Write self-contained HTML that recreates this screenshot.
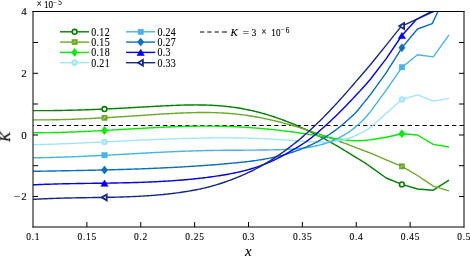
<!DOCTYPE html>
<html><head><meta charset="utf-8"><style>
html,body{margin:0;padding:0;background:#fff;}
svg{display:block;-webkit-font-smoothing:antialiased;}
text{will-change:transform;stroke:#000;stroke-width:0.12px;}
</style></head><body>
<svg width="470" height="256" viewBox="0 0 470 256">
<rect width="470" height="256" fill="#fff"/>
<defs><clipPath id="cp"><rect x="33" y="11.5" width="431" height="215.5"/></clipPath></defs>
<line x1="33" y1="125.5" x2="464" y2="125.5" stroke="#000" stroke-width="1.0" stroke-dasharray="4.3 3.11" stroke-dashoffset="3.31"/>
<g clip-path="url(#cp)"><path d="M33.10,110.65 L34.60,110.66 L36.10,110.67 L37.60,110.67 L39.10,110.67 L40.60,110.67 L42.10,110.67 L43.60,110.67 L45.10,110.66 L46.60,110.65 L48.10,110.64 L49.60,110.63 L51.10,110.61 L52.60,110.59 L54.10,110.57 L55.60,110.55 L57.10,110.53 L58.60,110.51 L60.10,110.48 L61.60,110.45 L63.10,110.42 L64.60,110.39 L66.10,110.36 L67.60,110.32 L69.10,110.29 L70.60,110.25 L72.10,110.21 L73.60,110.17 L75.10,110.13 L76.60,110.08 L78.10,110.04 L79.60,109.99 L81.10,109.94 L82.60,109.89 L84.10,109.84 L85.60,109.79 L87.10,109.74 L88.60,109.68 L90.10,109.62 L91.60,109.57 L93.10,109.51 L94.60,109.45 L96.10,109.39 L97.60,109.33 L99.10,109.26 L100.60,109.20 L102.10,109.13 L103.60,109.07 L105.10,109.00 L106.60,108.93 L108.10,108.86 L109.60,108.79 L111.10,108.72 L112.60,108.65 L114.10,108.58 L115.60,108.50 L117.10,108.43 L118.60,108.35 L120.10,108.28 L121.60,108.20 L123.10,108.12 L124.60,108.05 L126.10,107.97 L127.60,107.89 L129.10,107.81 L130.60,107.73 L132.10,107.65 L133.60,107.57 L135.10,107.49 L136.60,107.40 L138.10,107.32 L139.60,107.24 L141.10,107.16 L142.60,107.07 L144.10,106.99 L145.60,106.91 L147.10,106.82 L148.60,106.74 L150.10,106.65 L151.60,106.57 L153.10,106.48 L154.60,106.40 L156.10,106.32 L157.60,106.23 L159.10,106.15 L160.60,106.07 L162.10,105.99 L163.60,105.91 L165.10,105.83 L166.60,105.76 L168.10,105.68 L169.60,105.61 L171.10,105.54 L172.60,105.48 L174.10,105.41 L175.60,105.35 L177.10,105.30 L178.60,105.24 L180.10,105.19 L181.60,105.15 L183.10,105.10 L184.60,105.06 L186.10,105.03 L187.60,105.00 L189.10,104.97 L190.60,104.95 L192.10,104.94 L193.60,104.93 L195.10,104.92 L196.60,104.92 L198.10,104.93 L199.60,104.94 L201.10,104.96 L202.60,104.99 L204.10,105.02 L205.60,105.06 L207.10,105.11 L208.60,105.16 L210.10,105.22 L211.60,105.29 L213.10,105.36 L214.60,105.45 L216.10,105.54 L217.60,105.64 L219.10,105.75 L220.60,105.87 L222.10,105.99 L223.60,106.13 L225.10,106.27 L226.60,106.43 L228.10,106.59 L229.60,106.77 L231.10,106.95 L232.60,107.14 L234.10,107.35 L235.60,107.56 L237.10,107.79 L238.60,108.03 L240.10,108.28 L241.60,108.54 L243.10,108.81 L244.60,109.09 L246.10,109.39 L247.60,109.69 L249.10,110.01 L250.60,110.33 L252.10,110.67 L253.60,111.02 L255.10,111.38 L256.60,111.75 L258.10,112.13 L259.60,112.53 L261.10,112.93 L262.60,113.34 L264.10,113.77 L265.60,114.20 L267.10,114.65 L268.60,115.10 L270.10,115.57 L271.60,116.05 L273.10,116.53 L274.60,117.03 L276.10,117.54 L277.60,118.05 L279.10,118.58 L280.60,119.11 L282.10,119.66 L283.60,120.22 L285.10,120.78 L286.60,121.36 L288.10,121.94 L289.60,122.54 L291.10,123.14 L292.60,123.75 L294.10,124.38 L295.60,125.01 L297.10,125.65 L298.60,126.30 L300.10,126.96 L301.60,127.63 L303.10,128.30 L304.60,128.99 L306.10,129.69 L307.60,130.39 L309.10,131.10 L310.60,131.82 L312.10,132.55 L313.60,133.29 L315.10,134.04 L316.60,134.80 L318.10,135.56 L319.60,136.33 L321.10,137.11 L322.60,137.90 L324.10,138.70 L325.60,139.50 L327.10,140.32 L328.60,141.14 L330.10,141.97 L331.60,142.80 L333.10,143.65 L334.60,144.50 L336.10,145.36 L337.60,146.23 L339.10,147.11 L340.60,147.99 L342.10,148.90 L343.60,149.81 L345.10,150.73 L346.60,151.65 L348.10,152.58 L349.60,153.51 L351.10,154.44 L352.60,155.37 L354.10,156.29 L355.60,157.20 L357.10,158.10 L358.60,159.00 L360.10,159.91 L361.60,160.81 L363.10,161.74 L364.60,162.68 L366.10,163.67 L367.60,164.71 L369.10,165.80 L370.60,166.93 L386.25,178.00 L401.90,184.40 L417.50,189.00 L433.30,190.20 L449.00,180.10" fill="none" stroke="#008000" stroke-width="1.4" stroke-linejoin="round"/><path d="M33.10,119.88 L34.60,119.89 L36.10,119.90 L37.60,119.90 L39.10,119.90 L40.60,119.90 L42.10,119.90 L43.60,119.89 L45.10,119.88 L46.60,119.87 L48.10,119.86 L49.60,119.84 L51.10,119.82 L52.60,119.80 L54.10,119.77 L55.60,119.74 L57.10,119.71 L58.60,119.68 L60.10,119.65 L61.60,119.61 L63.10,119.57 L64.60,119.53 L66.10,119.48 L67.60,119.44 L69.10,119.39 L70.60,119.34 L72.10,119.29 L73.60,119.23 L75.10,119.18 L76.60,119.12 L78.10,119.06 L79.60,119.00 L81.10,118.94 L82.60,118.87 L84.10,118.81 L85.60,118.74 L87.10,118.67 L88.60,118.60 L90.10,118.52 L91.60,118.45 L93.10,118.37 L94.60,118.30 L96.10,118.22 L97.60,118.14 L99.10,118.06 L100.60,117.97 L102.10,117.89 L103.60,117.81 L105.10,117.72 L106.60,117.63 L108.10,117.55 L109.60,117.46 L111.10,117.37 L112.60,117.28 L114.10,117.18 L115.60,117.09 L117.10,117.00 L118.60,116.90 L120.10,116.81 L121.60,116.71 L123.10,116.62 L124.60,116.52 L126.10,116.43 L127.60,116.33 L129.10,116.23 L130.60,116.13 L132.10,116.03 L133.60,115.93 L135.10,115.83 L136.60,115.74 L138.10,115.64 L139.60,115.54 L141.10,115.44 L142.60,115.34 L144.10,115.24 L145.60,115.14 L147.10,115.04 L148.60,114.94 L150.10,114.84 L151.60,114.74 L153.10,114.64 L154.60,114.54 L156.10,114.44 L157.60,114.34 L159.10,114.25 L160.60,114.15 L162.10,114.06 L163.60,113.96 L165.10,113.87 L166.60,113.78 L168.10,113.69 L169.60,113.61 L171.10,113.52 L172.60,113.44 L174.10,113.36 L175.60,113.29 L177.10,113.21 L178.60,113.14 L180.10,113.07 L181.60,113.01 L183.10,112.95 L184.60,112.89 L186.10,112.83 L187.60,112.78 L189.10,112.73 L190.60,112.69 L192.10,112.65 L193.60,112.62 L195.10,112.59 L196.60,112.56 L198.10,112.54 L199.60,112.53 L201.10,112.52 L202.60,112.51 L204.10,112.51 L205.60,112.52 L207.10,112.53 L208.60,112.54 L210.10,112.57 L211.60,112.60 L213.10,112.63 L214.60,112.67 L216.10,112.72 L217.60,112.78 L219.10,112.84 L220.60,112.91 L222.10,112.98 L223.60,113.07 L225.10,113.16 L226.60,113.25 L228.10,113.36 L229.60,113.47 L231.10,113.60 L232.60,113.73 L234.10,113.86 L235.60,114.01 L237.10,114.17 L238.60,114.33 L240.10,114.50 L241.60,114.69 L243.10,114.88 L244.60,115.08 L246.10,115.29 L247.60,115.50 L249.10,115.73 L250.60,115.96 L252.10,116.21 L253.60,116.46 L255.10,116.72 L256.60,116.98 L258.10,117.26 L259.60,117.54 L261.10,117.83 L262.60,118.13 L264.10,118.44 L265.60,118.75 L267.10,119.07 L268.60,119.40 L270.10,119.74 L271.60,120.08 L273.10,120.43 L274.60,120.78 L276.10,121.15 L277.60,121.52 L279.10,121.89 L280.60,122.28 L282.10,122.66 L283.60,123.06 L285.10,123.46 L286.60,123.87 L288.10,124.28 L289.60,124.70 L291.10,125.13 L292.60,125.56 L294.10,125.99 L295.60,126.44 L297.10,126.88 L298.60,127.34 L300.10,127.79 L301.60,128.26 L303.10,128.72 L304.60,129.20 L306.10,129.67 L307.60,130.16 L309.10,130.64 L310.60,131.13 L312.10,131.63 L313.60,132.13 L315.10,132.63 L316.60,133.14 L318.10,133.65 L319.60,134.17 L321.10,134.69 L322.60,135.21 L324.10,135.74 L325.60,136.27 L327.10,136.80 L328.60,137.34 L330.10,137.88 L331.60,138.42 L333.10,138.97 L334.60,139.51 L336.10,140.07 L337.60,140.62 L339.10,141.18 L340.60,141.73 L342.10,142.27 L343.60,142.81 L345.10,143.36 L346.60,143.93 L348.10,144.51 L349.60,145.10 L351.10,145.69 L352.60,146.28 L354.10,146.87 L355.60,147.45 L357.10,148.03 L358.60,148.61 L360.10,149.18 L361.60,149.75 L363.10,150.32 L364.60,150.88 L366.10,151.44 L367.60,152.00 L369.10,152.57 L370.60,153.14 L386.25,159.96 L401.90,166.40 L417.50,175.50 L433.30,186.10 L449.00,190.80" fill="none" stroke="#6aaa28" stroke-width="1.4" stroke-linejoin="round"/><path d="M33.10,132.66 L34.60,132.67 L36.10,132.68 L37.60,132.68 L39.10,132.68 L40.60,132.68 L42.10,132.68 L43.60,132.67 L45.10,132.66 L46.60,132.64 L48.10,132.63 L49.60,132.61 L51.10,132.59 L52.60,132.56 L54.10,132.53 L55.60,132.50 L57.10,132.47 L58.60,132.44 L60.10,132.40 L61.60,132.36 L63.10,132.32 L64.60,132.27 L66.10,132.23 L67.60,132.18 L69.10,132.13 L70.60,132.07 L72.10,132.02 L73.60,131.96 L75.10,131.90 L76.60,131.84 L78.10,131.78 L79.60,131.72 L81.10,131.65 L82.60,131.58 L84.10,131.52 L85.60,131.45 L87.10,131.38 L88.60,131.30 L90.10,131.23 L91.60,131.15 L93.10,131.08 L94.60,131.00 L96.10,130.92 L97.60,130.84 L99.10,130.76 L100.60,130.68 L102.10,130.60 L103.60,130.51 L105.10,130.43 L106.60,130.35 L108.10,130.26 L109.60,130.17 L111.10,130.09 L112.60,130.00 L114.10,129.92 L115.60,129.83 L117.10,129.74 L118.60,129.65 L120.10,129.56 L121.60,129.48 L123.10,129.39 L124.60,129.30 L126.10,129.21 L127.60,129.12 L129.10,129.04 L130.60,128.95 L132.10,128.86 L133.60,128.77 L135.10,128.69 L136.60,128.60 L138.10,128.52 L139.60,128.43 L141.10,128.35 L142.60,128.26 L144.10,128.18 L145.60,128.10 L147.10,128.02 L148.60,127.94 L150.10,127.86 L151.60,127.78 L153.10,127.70 L154.60,127.62 L156.10,127.55 L157.60,127.48 L159.10,127.40 L160.60,127.33 L162.10,127.26 L163.60,127.19 L165.10,127.13 L166.60,127.06 L168.10,127.00 L169.60,126.94 L171.10,126.88 L172.60,126.82 L174.10,126.76 L175.60,126.71 L177.10,126.66 L178.60,126.61 L180.10,126.56 L181.60,126.51 L183.10,126.47 L184.60,126.42 L186.10,126.39 L187.60,126.35 L189.10,126.31 L190.60,126.28 L192.10,126.25 L193.60,126.22 L195.10,126.20 L196.60,126.18 L198.10,126.16 L199.60,126.14 L201.10,126.13 L202.60,126.12 L204.10,126.11 L205.60,126.11 L207.10,126.11 L208.60,126.11 L210.10,126.12 L211.60,126.12 L213.10,126.14 L214.60,126.15 L216.10,126.17 L217.60,126.19 L219.10,126.22 L220.60,126.25 L222.10,126.28 L223.60,126.32 L225.10,126.36 L226.60,126.40 L228.10,126.45 L229.60,126.50 L231.10,126.56 L232.60,126.62 L234.10,126.68 L235.60,126.75 L237.10,126.82 L238.60,126.90 L240.10,126.98 L241.60,127.06 L243.10,127.15 L244.60,127.24 L246.10,127.34 L247.60,127.43 L249.10,127.54 L250.60,127.64 L252.10,127.75 L253.60,127.86 L255.10,127.98 L256.60,128.10 L258.10,128.23 L259.60,128.35 L261.10,128.48 L262.60,128.62 L264.10,128.76 L265.60,128.90 L267.10,129.04 L268.60,129.19 L270.10,129.34 L271.60,129.49 L273.10,129.65 L274.60,129.81 L276.10,129.98 L277.60,130.14 L279.10,130.31 L280.60,130.49 L282.10,130.66 L283.60,130.84 L285.10,131.03 L286.60,131.21 L288.10,131.40 L289.60,131.59 L291.10,131.79 L292.60,131.98 L294.10,132.18 L295.60,132.39 L297.10,132.59 L298.60,132.80 L300.10,133.01 L301.60,133.23 L303.10,133.44 L304.60,133.66 L306.10,133.88 L307.60,134.11 L309.10,134.33 L310.60,134.56 L312.10,134.80 L313.60,135.03 L315.10,135.27 L316.60,135.51 L318.10,135.75 L319.60,135.99 L321.10,136.24 L322.60,136.49 L324.10,136.74 L325.60,136.99 L327.10,137.23 L328.60,137.48 L330.10,137.72 L331.60,137.96 L333.10,138.20 L334.60,138.43 L336.10,138.66 L337.60,138.88 L339.10,139.09 L340.60,139.30 L342.10,139.52 L343.60,139.73 L345.10,139.92 L346.60,140.09 L348.10,140.26 L349.60,140.41 L351.10,140.54 L352.60,140.65 L354.10,140.73 L355.60,140.78 L357.10,140.80 L358.60,140.78 L360.10,140.73 L361.60,140.65 L363.10,140.54 L364.60,140.41 L366.10,140.25 L367.60,140.08 L369.10,139.91 L370.60,139.74 L386.25,137.20 L401.90,133.70 L417.50,135.00 L433.30,144.40 L449.00,147.00" fill="none" stroke="#00ee00" stroke-width="1.4" stroke-linejoin="round"/><path d="M33.10,144.70 L34.60,144.67 L36.10,144.63 L37.60,144.60 L39.10,144.56 L40.60,144.52 L42.10,144.47 L43.60,144.43 L45.10,144.39 L46.60,144.34 L48.10,144.29 L49.60,144.24 L51.10,144.19 L52.60,144.14 L54.10,144.09 L55.60,144.04 L57.10,143.99 L58.60,143.93 L60.10,143.88 L61.60,143.82 L63.10,143.76 L64.60,143.70 L66.10,143.64 L67.60,143.58 L69.10,143.52 L70.60,143.46 L72.10,143.40 L73.60,143.33 L75.10,143.27 L76.60,143.20 L78.10,143.14 L79.60,143.07 L81.10,143.00 L82.60,142.94 L84.10,142.87 L85.60,142.80 L87.10,142.73 L88.60,142.66 L90.10,142.59 L91.60,142.52 L93.10,142.45 L94.60,142.38 L96.10,142.31 L97.60,142.24 L99.10,142.16 L100.60,142.09 L102.10,142.02 L103.60,141.95 L105.10,141.87 L106.60,141.80 L108.10,141.73 L109.60,141.65 L111.10,141.58 L112.60,141.51 L114.10,141.43 L115.60,141.36 L117.10,141.28 L118.60,141.21 L120.10,141.14 L121.60,141.06 L123.10,140.99 L124.60,140.92 L126.10,140.85 L127.60,140.77 L129.10,140.70 L130.60,140.63 L132.10,140.56 L133.60,140.49 L135.10,140.42 L136.60,140.35 L138.10,140.28 L139.60,140.21 L141.10,140.14 L142.60,140.07 L144.10,140.00 L145.60,139.93 L147.10,139.87 L148.60,139.80 L150.10,139.73 L151.60,139.67 L153.10,139.61 L154.60,139.54 L156.10,139.48 L157.60,139.42 L159.10,139.36 L160.60,139.30 L162.10,139.24 L163.60,139.18 L165.10,139.12 L166.60,139.06 L168.10,139.01 L169.60,138.95 L171.10,138.90 L172.60,138.85 L174.10,138.79 L175.60,138.74 L177.10,138.69 L178.60,138.65 L180.10,138.60 L181.60,138.55 L183.10,138.51 L184.60,138.47 L186.10,138.42 L187.60,138.38 L189.10,138.34 L190.60,138.31 L192.10,138.27 L193.60,138.23 L195.10,138.20 L196.60,138.17 L198.10,138.14 L199.60,138.11 L201.10,138.08 L202.60,138.06 L204.10,138.03 L205.60,138.01 L207.10,137.99 L208.60,137.97 L210.10,137.95 L211.60,137.94 L213.10,137.92 L214.60,137.91 L216.10,137.90 L217.60,137.89 L219.10,137.89 L220.60,137.88 L222.10,137.88 L223.60,137.88 L225.10,137.88 L226.60,137.88 L228.10,137.89 L229.60,137.90 L231.10,137.91 L232.60,137.92 L234.10,137.93 L235.60,137.95 L237.10,137.97 L238.60,137.99 L240.10,138.01 L241.60,138.04 L243.10,138.07 L244.60,138.10 L246.10,138.13 L247.60,138.16 L249.10,138.20 L250.60,138.24 L252.10,138.28 L253.60,138.33 L255.10,138.38 L256.60,138.43 L258.10,138.48 L259.60,138.54 L261.10,138.59 L262.60,138.65 L264.10,138.72 L265.60,138.78 L267.10,138.85 L268.60,138.92 L270.10,139.00 L271.60,139.08 L273.10,139.16 L274.60,139.24 L276.10,139.33 L277.60,139.42 L279.10,139.51 L280.60,139.60 L282.10,139.70 L283.60,139.80 L285.10,139.91 L286.60,140.02 L288.10,140.13 L289.60,140.24 L291.10,140.36 L292.60,140.48 L294.10,140.60 L295.60,140.72 L297.10,140.84 L298.60,140.97 L300.10,141.08 L301.60,141.20 L303.10,141.31 L304.60,141.42 L306.10,141.52 L307.60,141.62 L309.10,141.71 L310.60,141.79 L312.10,141.86 L313.60,141.92 L315.10,141.97 L316.60,142.00 L318.10,142.03 L319.60,142.04 L321.10,142.03 L322.60,142.01 L324.10,141.98 L325.60,141.93 L327.10,141.85 L328.60,141.76 L330.10,141.65 L331.60,141.52 L333.10,141.37 L334.60,141.19 L336.10,140.99 L337.60,140.76 L339.10,140.51 L340.60,140.24 L342.10,139.95 L343.60,139.63 L345.10,139.27 L346.60,138.88 L348.10,138.46 L349.60,137.98 L351.10,137.47 L352.60,136.91 L354.10,136.32 L355.60,135.68 L357.10,135.01 L358.60,134.30 L360.10,133.57 L361.60,132.81 L363.10,132.01 L364.60,131.17 L366.10,130.29 L367.60,129.38 L369.10,128.41 L370.60,127.40 L386.25,113.25 L401.90,99.50 L417.50,94.80 L433.30,101.10 L449.00,98.40" fill="none" stroke="#a0e6fa" stroke-width="1.4" stroke-linejoin="round"/><path d="M33.10,157.78 L34.60,157.77 L36.10,157.75 L37.60,157.73 L39.10,157.71 L40.60,157.69 L42.10,157.66 L43.60,157.64 L45.10,157.61 L46.60,157.58 L48.10,157.55 L49.60,157.51 L51.10,157.48 L52.60,157.44 L54.10,157.40 L55.60,157.36 L57.10,157.31 L58.60,157.27 L60.10,157.22 L61.60,157.17 L63.10,157.12 L64.60,157.07 L66.10,157.02 L67.60,156.97 L69.10,156.91 L70.60,156.85 L72.10,156.80 L73.60,156.74 L75.10,156.67 L76.60,156.61 L78.10,156.55 L79.60,156.48 L81.10,156.42 L82.60,156.35 L84.10,156.28 L85.60,156.22 L87.10,156.15 L88.60,156.07 L90.10,156.00 L91.60,155.93 L93.10,155.86 L94.60,155.78 L96.10,155.71 L97.60,155.63 L99.10,155.55 L100.60,155.48 L102.10,155.40 L103.60,155.32 L105.10,155.24 L106.60,155.16 L108.10,155.08 L109.60,155.00 L111.10,154.92 L112.60,154.84 L114.10,154.76 L115.60,154.68 L117.10,154.59 L118.60,154.51 L120.10,154.43 L121.60,154.35 L123.10,154.26 L124.60,154.18 L126.10,154.10 L127.60,154.02 L129.10,153.93 L130.60,153.85 L132.10,153.77 L133.60,153.68 L135.10,153.60 L136.60,153.52 L138.10,153.44 L139.60,153.35 L141.10,153.27 L142.60,153.19 L144.10,153.11 L145.60,153.03 L147.10,152.95 L148.60,152.87 L150.10,152.79 L151.60,152.71 L153.10,152.64 L154.60,152.56 L156.10,152.48 L157.60,152.41 L159.10,152.33 L160.60,152.26 L162.10,152.18 L163.60,152.11 L165.10,152.04 L166.60,151.97 L168.10,151.90 L169.60,151.83 L171.10,151.76 L172.60,151.70 L174.10,151.63 L175.60,151.56 L177.10,151.50 L178.60,151.44 L180.10,151.38 L181.60,151.32 L183.10,151.26 L184.60,151.20 L186.10,151.15 L187.60,151.09 L189.10,151.04 L190.60,150.99 L192.10,150.94 L193.60,150.89 L195.10,150.85 L196.60,150.80 L198.10,150.76 L199.60,150.72 L201.10,150.68 L202.60,150.64 L204.10,150.60 L205.60,150.57 L207.10,150.54 L208.60,150.51 L210.10,150.48 L211.60,150.45 L213.10,150.43 L214.60,150.40 L216.10,150.38 L217.60,150.36 L219.10,150.34 L220.60,150.33 L222.10,150.31 L223.60,150.30 L225.10,150.29 L226.60,150.27 L228.10,150.26 L229.60,150.25 L231.10,150.24 L232.60,150.23 L234.10,150.22 L235.60,150.22 L237.10,150.21 L238.60,150.20 L240.10,150.19 L241.60,150.18 L243.10,150.18 L244.60,150.17 L246.10,150.16 L247.60,150.15 L249.10,150.14 L250.60,150.13 L252.10,150.12 L253.60,150.11 L255.10,150.09 L256.60,150.08 L258.10,150.07 L259.60,150.05 L261.10,150.03 L262.60,150.01 L264.10,149.99 L265.60,149.97 L267.10,149.95 L268.60,149.92 L270.10,149.89 L271.60,149.86 L273.10,149.83 L274.60,149.80 L276.10,149.76 L277.60,149.72 L279.10,149.68 L280.60,149.63 L282.10,149.58 L283.60,149.53 L285.10,149.47 L286.60,149.40 L288.10,149.32 L289.60,149.24 L291.10,149.15 L292.60,149.06 L294.10,148.95 L295.60,148.83 L297.10,148.71 L298.60,148.57 L300.10,148.42 L301.60,148.26 L303.10,148.09 L304.60,147.90 L306.10,147.70 L307.60,147.48 L309.10,147.24 L310.60,146.99 L312.10,146.72 L313.60,146.43 L315.10,146.12 L316.60,145.79 L318.10,145.43 L319.60,145.06 L321.10,144.66 L322.60,144.24 L324.10,143.79 L325.60,143.31 L327.10,142.81 L328.60,142.28 L330.10,141.72 L331.60,141.13 L333.10,140.51 L334.60,139.86 L336.10,139.18 L337.60,138.46 L339.10,137.71 L340.60,136.93 L342.10,136.12 L343.60,135.27 L345.10,134.38 L346.60,133.48 L348.10,132.54 L349.60,131.57 L351.10,130.52 L352.60,129.37 L354.10,128.14 L355.60,126.85 L357.10,125.53 L358.60,124.23 L360.10,122.92 L361.60,121.56 L363.10,120.07 L364.60,118.48 L366.10,116.82 L367.60,115.08 L369.10,113.27 L370.60,111.40 L386.25,90.05 L401.90,67.30 L417.50,54.80 L433.30,56.90 L449.00,34.80" fill="none" stroke="#44b4ea" stroke-width="1.4" stroke-linejoin="round"/><path d="M33.10,171.30 L34.60,171.28 L36.10,171.25 L37.60,171.23 L39.10,171.20 L40.60,171.18 L42.10,171.15 L43.60,171.13 L45.10,171.10 L46.60,171.08 L48.10,171.05 L49.60,171.03 L51.10,171.00 L52.60,170.98 L54.10,170.95 L55.60,170.93 L57.10,170.90 L58.60,170.87 L60.10,170.85 L61.60,170.82 L63.10,170.80 L64.60,170.77 L66.10,170.74 L67.60,170.72 L69.10,170.69 L70.60,170.66 L72.10,170.63 L73.60,170.61 L75.10,170.58 L76.60,170.55 L78.10,170.52 L79.60,170.49 L81.10,170.46 L82.60,170.43 L84.10,170.40 L85.60,170.37 L87.10,170.34 L88.60,170.31 L90.10,170.28 L91.60,170.24 L93.10,170.21 L94.60,170.18 L96.10,170.14 L97.60,170.11 L99.10,170.07 L100.60,170.04 L102.10,170.00 L103.60,169.97 L105.10,169.93 L106.60,169.89 L108.10,169.85 L109.60,169.81 L111.10,169.77 L112.60,169.73 L114.10,169.69 L115.60,169.65 L117.10,169.61 L118.60,169.57 L120.10,169.52 L121.60,169.48 L123.10,169.43 L124.60,169.39 L126.10,169.34 L127.60,169.29 L129.10,169.25 L130.60,169.20 L132.10,169.15 L133.60,169.10 L135.10,169.04 L136.60,168.99 L138.10,168.94 L139.60,168.88 L141.10,168.83 L142.60,168.77 L144.10,168.72 L145.60,168.66 L147.10,168.60 L148.60,168.54 L150.10,168.48 L151.60,168.42 L153.10,168.35 L154.60,168.29 L156.10,168.22 L157.60,168.16 L159.10,168.09 L160.60,168.02 L162.10,167.95 L163.60,167.88 L165.10,167.81 L166.60,167.74 L168.10,167.66 L169.60,167.59 L171.10,167.51 L172.60,167.43 L174.10,167.35 L175.60,167.27 L177.10,167.19 L178.60,167.11 L180.10,167.02 L181.60,166.94 L183.10,166.85 L184.60,166.76 L186.10,166.67 L187.60,166.58 L189.10,166.49 L190.60,166.40 L192.10,166.30 L193.60,166.20 L195.10,166.11 L196.60,166.01 L198.10,165.91 L199.60,165.80 L201.10,165.70 L202.60,165.59 L204.10,165.49 L205.60,165.38 L207.10,165.27 L208.60,165.16 L210.10,165.04 L211.60,164.93 L213.10,164.81 L214.60,164.70 L216.10,164.58 L217.60,164.46 L219.10,164.33 L220.60,164.21 L222.10,164.08 L223.60,163.95 L225.10,163.82 L226.60,163.69 L228.10,163.56 L229.60,163.42 L231.10,163.29 L232.60,163.15 L234.10,163.01 L235.60,162.86 L237.10,162.72 L238.60,162.57 L240.10,162.41 L241.60,162.26 L243.10,162.09 L244.60,161.93 L246.10,161.75 L247.60,161.58 L249.10,161.40 L250.60,161.21 L252.10,161.01 L253.60,160.81 L255.10,160.60 L256.60,160.39 L258.10,160.16 L259.60,159.93 L261.10,159.70 L262.60,159.45 L264.10,159.19 L265.60,158.93 L267.10,158.65 L268.60,158.37 L270.10,158.07 L271.60,157.77 L273.10,157.45 L274.60,157.12 L276.10,156.78 L277.60,156.43 L279.10,156.07 L280.60,155.70 L282.10,155.31 L283.60,154.91 L285.10,154.49 L286.60,154.07 L288.10,153.62 L289.60,153.17 L291.10,152.70 L292.60,152.21 L294.10,151.71 L295.60,151.19 L297.10,150.66 L298.60,150.11 L300.10,149.54 L301.60,148.96 L303.10,148.36 L304.60,147.74 L306.10,147.10 L307.60,146.44 L309.10,145.76 L310.60,145.07 L312.10,144.35 L313.60,143.61 L315.10,142.85 L316.60,142.07 L318.10,141.26 L319.60,140.44 L321.10,139.59 L322.60,138.71 L324.10,137.81 L325.60,136.89 L327.10,135.94 L328.60,134.97 L330.10,133.97 L331.60,132.94 L333.10,131.89 L334.60,130.81 L336.10,129.70 L337.60,128.56 L339.10,127.39 L340.60,126.20 L342.10,124.96 L343.60,123.68 L345.10,122.36 L346.60,121.00 L348.10,119.65 L349.60,118.31 L351.10,116.98 L352.60,115.64 L354.10,114.25 L355.60,112.75 L357.10,111.07 L358.60,109.24 L360.10,107.38 L361.60,105.53 L363.10,103.68 L364.60,101.83 L366.10,99.97 L367.60,98.10 L369.10,96.24 L370.60,94.38 L386.25,72.66 L401.90,47.80 L417.50,29.00 L432.20,23.60 L438.00,11.50" fill="none" stroke="#0a6ec0" stroke-width="1.4" stroke-linejoin="round"/><path d="M33.10,184.81 L34.60,184.74 L36.10,184.68 L37.60,184.61 L39.10,184.55 L40.60,184.49 L42.10,184.43 L43.60,184.38 L45.10,184.32 L46.60,184.27 L48.10,184.22 L49.60,184.18 L51.10,184.13 L52.60,184.09 L54.10,184.04 L55.60,184.00 L57.10,183.96 L58.60,183.92 L60.10,183.89 L61.60,183.85 L63.10,183.82 L64.60,183.79 L66.10,183.75 L67.60,183.72 L69.10,183.69 L70.60,183.67 L72.10,183.64 L73.60,183.61 L75.10,183.59 L76.60,183.56 L78.10,183.54 L79.60,183.51 L81.10,183.49 L82.60,183.47 L84.10,183.44 L85.60,183.42 L87.10,183.40 L88.60,183.38 L90.10,183.36 L91.60,183.34 L93.10,183.32 L94.60,183.30 L96.10,183.27 L97.60,183.25 L99.10,183.23 L100.60,183.21 L102.10,183.19 L103.60,183.17 L105.10,183.15 L106.60,183.12 L108.10,183.10 L109.60,183.08 L111.10,183.05 L112.60,183.03 L114.10,183.00 L115.60,182.97 L117.10,182.94 L118.60,182.92 L120.10,182.89 L121.60,182.86 L123.10,182.82 L124.60,182.79 L126.10,182.76 L127.60,182.72 L129.10,182.68 L130.60,182.65 L132.10,182.61 L133.60,182.56 L135.10,182.52 L136.60,182.48 L138.10,182.43 L139.60,182.38 L141.10,182.33 L142.60,182.28 L144.10,182.23 L145.60,182.17 L147.10,182.11 L148.60,182.05 L150.10,181.99 L151.60,181.93 L153.10,181.86 L154.60,181.79 L156.10,181.72 L157.60,181.64 L159.10,181.57 L160.60,181.49 L162.10,181.41 L163.60,181.32 L165.10,181.23 L166.60,181.14 L168.10,181.05 L169.60,180.95 L171.10,180.85 L172.60,180.75 L174.10,180.65 L175.60,180.54 L177.10,180.42 L178.60,180.31 L180.10,180.19 L181.60,180.07 L183.10,179.94 L184.60,179.81 L186.10,179.68 L187.60,179.54 L189.10,179.40 L190.60,179.26 L192.10,179.11 L193.60,178.96 L195.10,178.80 L196.60,178.64 L198.10,178.47 L199.60,178.31 L201.10,178.13 L202.60,177.96 L204.10,177.77 L205.60,177.59 L207.10,177.40 L208.60,177.20 L210.10,177.00 L211.60,176.80 L213.10,176.59 L214.60,176.38 L216.10,176.16 L217.60,175.93 L219.10,175.70 L220.60,175.47 L222.10,175.23 L223.60,174.98 L225.10,174.73 L226.60,174.46 L228.10,174.19 L229.60,173.92 L231.10,173.63 L232.60,173.34 L234.10,173.03 L235.60,172.72 L237.10,172.39 L238.60,172.06 L240.10,171.71 L241.60,171.36 L243.10,170.99 L244.60,170.61 L246.10,170.21 L247.60,169.81 L249.10,169.39 L250.60,168.96 L252.10,168.51 L253.60,168.05 L255.10,167.57 L256.60,167.08 L258.10,166.57 L259.60,166.05 L261.10,165.51 L262.60,164.95 L264.10,164.38 L265.60,163.78 L267.10,163.17 L268.60,162.55 L270.10,161.90 L271.60,161.23 L273.10,160.55 L274.60,159.84 L276.10,159.11 L277.60,158.37 L279.10,157.60 L280.60,156.82 L282.10,156.02 L283.60,155.20 L285.10,154.37 L286.60,153.53 L288.10,152.68 L289.60,151.81 L291.10,150.94 L292.60,150.07 L294.10,149.19 L295.60,148.30 L297.10,147.42 L298.60,146.52 L300.10,145.61 L301.60,144.68 L303.10,143.73 L304.60,142.74 L306.10,141.71 L307.60,140.64 L309.10,139.52 L310.60,138.37 L312.10,137.19 L313.60,135.97 L315.10,134.73 L316.60,133.46 L318.10,132.17 L319.60,130.87 L321.10,129.55 L322.60,128.22 L324.10,126.88 L325.60,125.52 L327.10,124.16 L328.60,122.78 L330.10,121.39 L331.60,119.99 L333.10,118.57 L334.60,117.14 L336.10,115.70 L337.60,114.25 L339.10,112.78 L340.60,111.30 L342.10,109.79 L343.60,108.26 L345.10,106.72 L346.60,105.16 L348.10,103.60 L349.60,102.03 L351.10,100.45 L352.60,98.87 L354.10,97.28 L355.60,95.69 L357.10,94.09 L358.60,92.48 L360.10,90.86 L361.60,89.22 L363.10,87.58 L364.60,85.93 L366.10,84.25 L367.60,82.55 L369.10,80.82 L370.60,79.04 L386.25,58.62 L401.90,35.50 L416.60,19.30 L431.50,11.50" fill="none" stroke="#0000ff" stroke-width="1.4" stroke-linejoin="round"/><path d="M33.10,199.42 L34.60,199.32 L36.10,199.23 L37.60,199.14 L39.10,199.06 L40.60,198.97 L42.10,198.90 L43.60,198.82 L45.10,198.75 L46.60,198.68 L48.10,198.62 L49.60,198.55 L51.10,198.49 L52.60,198.44 L54.10,198.38 L55.60,198.33 L57.10,198.28 L58.60,198.24 L60.10,198.19 L61.60,198.15 L63.10,198.11 L64.60,198.07 L66.10,198.04 L67.60,198.00 L69.10,197.97 L70.60,197.94 L72.10,197.91 L73.60,197.88 L75.10,197.85 L76.60,197.82 L78.10,197.80 L79.60,197.77 L81.10,197.75 L82.60,197.72 L84.10,197.70 L85.60,197.68 L87.10,197.66 L88.60,197.63 L90.10,197.61 L91.60,197.59 L93.10,197.57 L94.60,197.55 L96.10,197.52 L97.60,197.50 L99.10,197.48 L100.60,197.45 L102.10,197.43 L103.60,197.40 L105.10,197.38 L106.60,197.35 L108.10,197.32 L109.60,197.29 L111.10,197.26 L112.60,197.22 L114.10,197.19 L115.60,197.15 L117.10,197.12 L118.60,197.08 L120.10,197.03 L121.60,196.99 L123.10,196.94 L124.60,196.89 L126.10,196.84 L127.60,196.79 L129.10,196.73 L130.60,196.67 L132.10,196.61 L133.60,196.55 L135.10,196.48 L136.60,196.41 L138.10,196.33 L139.60,196.25 L141.10,196.17 L142.60,196.09 L144.10,196.00 L145.60,195.90 L147.10,195.81 L148.60,195.71 L150.10,195.60 L151.60,195.49 L153.10,195.38 L154.60,195.26 L156.10,195.14 L157.60,195.01 L159.10,194.88 L160.60,194.74 L162.10,194.60 L163.60,194.45 L165.10,194.30 L166.60,194.14 L168.10,193.98 L169.60,193.81 L171.10,193.64 L172.60,193.46 L174.10,193.27 L175.60,193.08 L177.10,192.88 L178.60,192.68 L180.10,192.47 L181.60,192.25 L183.10,192.03 L184.60,191.80 L186.10,191.56 L187.60,191.32 L189.10,191.07 L190.60,190.81 L192.10,190.54 L193.60,190.27 L195.10,189.98 L196.60,189.69 L198.10,189.39 L199.60,189.08 L201.10,188.75 L202.60,188.42 L204.10,188.08 L205.60,187.72 L207.10,187.36 L208.60,186.98 L210.10,186.59 L211.60,186.18 L213.10,185.77 L214.60,185.34 L216.10,184.89 L217.60,184.44 L219.10,183.97 L220.60,183.48 L222.10,182.99 L223.60,182.48 L225.10,181.97 L226.60,181.44 L228.10,180.90 L229.60,180.35 L231.10,179.80 L232.60,179.23 L234.10,178.65 L235.60,178.06 L237.10,177.46 L238.60,176.85 L240.10,176.23 L241.60,175.59 L243.10,174.95 L244.60,174.28 L246.10,173.61 L247.60,172.92 L249.10,172.22 L250.60,171.50 L252.10,170.76 L253.60,170.02 L255.10,169.25 L256.60,168.47 L258.10,167.67 L259.60,166.86 L261.10,166.03 L262.60,165.19 L264.10,164.33 L265.60,163.46 L267.10,162.57 L268.60,161.66 L270.10,160.74 L271.60,159.80 L273.10,158.85 L274.60,157.88 L276.10,156.89 L277.60,155.89 L279.10,154.87 L280.60,153.84 L282.10,152.79 L283.60,151.72 L285.10,150.64 L286.60,149.54 L288.10,148.43 L289.60,147.30 L291.10,146.15 L292.60,144.99 L294.10,143.81 L295.60,142.61 L297.10,141.40 L298.60,140.17 L300.10,138.92 L301.60,137.66 L303.10,136.38 L304.60,135.08 L306.10,133.76 L307.60,132.43 L309.10,131.08 L310.60,129.71 L312.10,128.32 L313.60,126.92 L315.10,125.50 L316.60,124.06 L318.10,122.60 L319.60,121.13 L321.10,119.64 L322.60,118.14 L324.10,116.62 L325.60,115.09 L327.10,113.54 L328.60,111.98 L330.10,110.41 L331.60,108.82 L333.10,107.22 L334.60,105.61 L336.10,103.98 L337.60,102.35 L339.10,100.70 L340.60,99.05 L342.10,97.40 L343.60,95.72 L345.10,94.04 L346.60,92.34 L348.10,90.62 L349.60,88.90 L351.10,87.16 L352.60,85.42 L354.10,83.67 L355.60,81.91 L357.10,80.16 L358.60,78.42 L360.10,76.67 L361.60,74.94 L363.10,73.20 L364.60,71.47 L366.10,69.75 L367.60,68.02 L369.10,66.29 L370.60,64.56 L386.25,45.16 L401.20,26.40 L433.50,11.50" fill="none" stroke="#15288c" stroke-width="1.4" stroke-linejoin="round"/><circle cx="104.50" cy="109.03" r="2.4" fill="#fff" stroke="#008000" stroke-width="1.6"/><circle cx="401.90" cy="184.40" r="2.4" fill="#fff" stroke="#008000" stroke-width="1.6"/><rect x="101.90" y="115.15" width="5.20" height="5.20" fill="#6aaa28" stroke="#6aaa28" stroke-width="0.6"/><line x1="103.40" y1="118.65" x2="105.40" y2="116.65" stroke="#d4eab8" stroke-width="0.9"/><rect x="399.30" y="163.80" width="5.20" height="5.20" fill="#6aaa28" stroke="#6aaa28" stroke-width="0.6"/><line x1="400.80" y1="167.30" x2="402.80" y2="165.30" stroke="#d4eab8" stroke-width="0.9"/><polygon points="104.50,126.46 107.60,130.46 104.50,134.46 101.40,130.46" fill="#00ee00" stroke="#00ee00" stroke-width="0.6"/><polygon points="401.90,129.70 405.00,133.70 401.90,137.70 398.80,133.70" fill="#00ee00" stroke="#00ee00" stroke-width="0.6"/><circle cx="104.50" cy="141.90" r="2.4" fill="#c4effc" stroke="#a0e6fa" stroke-width="1.6"/><circle cx="401.90" cy="99.50" r="2.4" fill="#c4effc" stroke="#a0e6fa" stroke-width="1.6"/><rect x="101.90" y="152.67" width="5.20" height="5.20" fill="#44b4ea" stroke="#44b4ea" stroke-width="0.6"/><rect x="399.30" y="64.70" width="5.20" height="5.20" fill="#44b4ea" stroke="#44b4ea" stroke-width="0.6"/><polygon points="104.50,165.94 107.60,169.94 104.50,173.94 101.40,169.94" fill="#0a6ec0" stroke="#0a6ec0" stroke-width="0.6"/><polygon points="401.90,43.80 405.00,47.80 401.90,51.80 398.80,47.80" fill="#0a6ec0" stroke="#0a6ec0" stroke-width="0.6"/><polygon points="104.50,180.05 108.10,186.25 100.90,186.25" fill="#0000ff" stroke="#0000ff" stroke-width="0.6"/><polygon points="401.90,32.40 405.50,38.60 398.30,38.60" fill="#0000ff" stroke="#0000ff" stroke-width="0.6"/><polygon points="101.90,197.39 106.70,194.49 106.70,200.29" fill="#fff" stroke="#15288c" stroke-width="1.8" stroke-linejoin="miter"/><polygon points="399.30,26.08 404.10,23.18 404.10,28.98" fill="#fff" stroke="#15288c" stroke-width="1.8" stroke-linejoin="miter"/></g>
<line x1="32.5" y1="11.5" x2="464.5" y2="11.5" stroke="#000" stroke-width="1"/>
<line x1="33.0" y1="11" x2="33.0" y2="227.5" stroke="#000" stroke-width="1"/>
<line x1="32.5" y1="227.0" x2="464.5" y2="227.0" stroke="#000" stroke-width="1"/>
<line x1="464.0" y1="11" x2="464.0" y2="227.5" stroke="#000" stroke-width="1"/>
<line x1="86.88" y1="227" x2="86.88" y2="222" stroke="#000" stroke-width="1"/>
<line x1="140.75" y1="227" x2="140.75" y2="222" stroke="#000" stroke-width="1"/>
<line x1="194.62" y1="227" x2="194.62" y2="222" stroke="#000" stroke-width="1"/>
<line x1="248.50" y1="227" x2="248.50" y2="222" stroke="#000" stroke-width="1"/>
<line x1="302.38" y1="227" x2="302.38" y2="222" stroke="#000" stroke-width="1"/>
<line x1="356.25" y1="227" x2="356.25" y2="222" stroke="#000" stroke-width="1"/>
<line x1="410.12" y1="227" x2="410.12" y2="222" stroke="#000" stroke-width="1"/>
<line x1="33" y1="196.50" x2="38" y2="196.50" stroke="#000" stroke-width="1"/>
<line x1="464" y1="196.50" x2="459" y2="196.50" stroke="#000" stroke-width="1"/>
<line x1="33" y1="165.70" x2="38" y2="165.70" stroke="#000" stroke-width="1"/>
<line x1="464" y1="165.70" x2="459" y2="165.70" stroke="#000" stroke-width="1"/>
<line x1="33" y1="135.00" x2="38" y2="135.00" stroke="#000" stroke-width="1"/>
<line x1="464" y1="135.00" x2="459" y2="135.00" stroke="#000" stroke-width="1"/>
<line x1="33" y1="104.00" x2="38" y2="104.00" stroke="#000" stroke-width="1"/>
<line x1="464" y1="104.00" x2="459" y2="104.00" stroke="#000" stroke-width="1"/>
<line x1="33" y1="73.30" x2="38" y2="73.30" stroke="#000" stroke-width="1"/>
<line x1="464" y1="73.30" x2="459" y2="73.30" stroke="#000" stroke-width="1"/>
<line x1="33" y1="42.50" x2="38" y2="42.50" stroke="#000" stroke-width="1"/>
<line x1="464" y1="42.50" x2="459" y2="42.50" stroke="#000" stroke-width="1"/>
<text transform="translate(33.30,239.80) scale(0.95,1)" font-family="Liberation Serif" font-size="10" text-anchor="middle" letter-spacing="0.7">0.1</text>
<text transform="translate(87.17,239.80) scale(0.95,1)" font-family="Liberation Serif" font-size="10" text-anchor="middle" letter-spacing="0.7">0.15</text>
<text transform="translate(141.05,239.80) scale(0.95,1)" font-family="Liberation Serif" font-size="10" text-anchor="middle" letter-spacing="0.7">0.2</text>
<text transform="translate(194.93,239.80) scale(0.95,1)" font-family="Liberation Serif" font-size="10" text-anchor="middle" letter-spacing="0.7">0.25</text>
<text transform="translate(248.60,239.80) scale(0.92,1)" font-family="Liberation Serif" font-size="10" text-anchor="middle" letter-spacing="0.2">0.3</text>
<text transform="translate(302.68,239.80) scale(0.95,1)" font-family="Liberation Serif" font-size="10" text-anchor="middle" letter-spacing="0.7">0.35</text>
<text transform="translate(356.55,239.80) scale(0.95,1)" font-family="Liberation Serif" font-size="10" text-anchor="middle" letter-spacing="0.7">0.4</text>
<text transform="translate(410.43,239.80) scale(0.95,1)" font-family="Liberation Serif" font-size="10" text-anchor="middle" letter-spacing="0.7">0.45</text>
<text transform="translate(464.30,239.80) scale(0.95,1)" font-family="Liberation Serif" font-size="10" text-anchor="middle" letter-spacing="0.7">0.5</text>
<text transform="translate(26.70,15.20) scale(1.0,1)" font-family="Liberation Serif" font-size="11" text-anchor="end">4</text>
<text transform="translate(26.70,77.00) scale(1.0,1)" font-family="Liberation Serif" font-size="11" text-anchor="end">2</text>
<text transform="translate(26.70,138.70) scale(1.0,1)" font-family="Liberation Serif" font-size="11" text-anchor="end">0</text>
<text transform="translate(26.70,200.20) scale(1.0,1)" font-family="Liberation Serif" font-size="11" text-anchor="end">2</text>
<text transform="translate(20.60,200.40) scale(1.0,1)" font-family="Liberation Serif" font-size="12" text-anchor="end">−</text>
<text transform="translate(36.60,7.10) scale(1.0,1)" font-family="Liberation Serif" font-size="9.5" text-anchor="start">×</text>
<text transform="translate(43.90,8.00) scale(0.85,1)" font-family="Liberation Serif" font-size="10.8" text-anchor="start">10</text>
<text transform="translate(52.40,4.90) scale(1.0,1)" font-family="Liberation Serif" font-size="7.2" text-anchor="start">−</text>
<text transform="translate(58.20,4.90) scale(1.0,1)" font-family="Liberation Serif" font-size="7.2" text-anchor="start">5</text>
<text x="248.3" y="255.9" font-family="Liberation Serif" font-size="15" font-style="italic" text-anchor="middle">x</text>
<text transform="translate(10.2,136.8) rotate(-90)" font-family="Liberation Serif" font-size="15" font-style="italic" text-anchor="middle">K</text>
<line x1="60.0" y1="31.80" x2="89.2" y2="31.80" stroke="#008000" stroke-width="1.4"/>
<circle cx="74.60" cy="31.80" r="2.4" fill="#fff" stroke="#008000" stroke-width="1.6"/>
<text transform="translate(91.30,35.80) scale(0.86,1)" font-family="Liberation Serif" font-size="11.6" text-anchor="start" letter-spacing="0.35">0.12</text>
<line x1="60.0" y1="42.10" x2="89.2" y2="42.10" stroke="#6aaa28" stroke-width="1.4"/>
<rect x="72.00" y="39.50" width="5.20" height="5.20" fill="#6aaa28" stroke="#6aaa28" stroke-width="0.6"/><line x1="73.50" y1="43.00" x2="75.50" y2="41.00" stroke="#d4eab8" stroke-width="0.9"/>
<text transform="translate(91.30,46.10) scale(0.86,1)" font-family="Liberation Serif" font-size="11.6" text-anchor="start" letter-spacing="0.35">0.15</text>
<line x1="60.0" y1="52.40" x2="89.2" y2="52.40" stroke="#00ee00" stroke-width="1.4"/>
<polygon points="74.60,48.40 77.70,52.40 74.60,56.40 71.50,52.40" fill="#00ee00" stroke="#00ee00" stroke-width="0.6"/>
<text transform="translate(91.30,56.40) scale(0.86,1)" font-family="Liberation Serif" font-size="11.6" text-anchor="start" letter-spacing="0.35">0.18</text>
<line x1="60.0" y1="62.70" x2="89.2" y2="62.70" stroke="#a0e6fa" stroke-width="1.4"/>
<circle cx="74.60" cy="62.70" r="2.4" fill="#c4effc" stroke="#a0e6fa" stroke-width="1.6"/>
<text transform="translate(91.30,66.70) scale(0.86,1)" font-family="Liberation Serif" font-size="11.6" text-anchor="start" letter-spacing="0.35">0.21</text>
<line x1="126.1" y1="31.80" x2="155.29999999999998" y2="31.80" stroke="#44b4ea" stroke-width="1.4"/>
<rect x="138.10" y="29.20" width="5.20" height="5.20" fill="#44b4ea" stroke="#44b4ea" stroke-width="0.6"/>
<text transform="translate(157.40,35.80) scale(0.86,1)" font-family="Liberation Serif" font-size="11.6" text-anchor="start" letter-spacing="0.35">0.24</text>
<line x1="126.1" y1="42.10" x2="155.29999999999998" y2="42.10" stroke="#0a6ec0" stroke-width="1.4"/>
<polygon points="140.70,38.10 143.80,42.10 140.70,46.10 137.60,42.10" fill="#0a6ec0" stroke="#0a6ec0" stroke-width="0.6"/>
<text transform="translate(157.40,46.10) scale(0.86,1)" font-family="Liberation Serif" font-size="11.6" text-anchor="start" letter-spacing="0.35">0.27</text>
<line x1="126.1" y1="52.40" x2="155.29999999999998" y2="52.40" stroke="#0000ff" stroke-width="1.4"/>
<polygon points="140.70,49.30 144.30,55.50 137.10,55.50" fill="#0000ff" stroke="#0000ff" stroke-width="0.6"/>
<text transform="translate(157.40,56.40) scale(0.86,1)" font-family="Liberation Serif" font-size="11.6" text-anchor="start" letter-spacing="0.35">0.3</text>
<line x1="126.1" y1="62.70" x2="155.29999999999998" y2="62.70" stroke="#15288c" stroke-width="1.4"/>
<polygon points="138.10,62.70 142.90,59.80 142.90,65.60" fill="#fff" stroke="#15288c" stroke-width="1.8" stroke-linejoin="miter"/>
<text transform="translate(157.40,66.70) scale(0.86,1)" font-family="Liberation Serif" font-size="11.6" text-anchor="start" letter-spacing="0.35">0.33</text>
<line x1="200.0" y1="32" x2="227" y2="32" stroke="#000" stroke-width="1.0" stroke-dasharray="4.2 3.1 4.2 3.1 4.2 3.1 5.1"/>
<text transform="translate(230.60,35.80) scale(1.0,1)" font-family="Liberation Serif" font-size="10.8" text-anchor="start" font-style="italic">K</text>
<text transform="translate(242.60,35.60) scale(1.1,1)" font-family="Liberation Serif" font-size="10.8" text-anchor="start">=</text>
<text transform="translate(251.50,36.00) scale(0.9,1)" font-family="Liberation Serif" font-size="10.8" text-anchor="start">3</text>
<text transform="translate(261.20,35.00) scale(1.0,1)" font-family="Liberation Serif" font-size="9.5" text-anchor="start">×</text>
<text transform="translate(271.30,35.70) scale(0.85,1)" font-family="Liberation Serif" font-size="10.8" text-anchor="start">10</text>
<text transform="translate(280.20,32.40) scale(1.0,1)" font-family="Liberation Serif" font-size="7.2" text-anchor="start">−</text>
<text transform="translate(285.80,32.70) scale(1.0,1)" font-family="Liberation Serif" font-size="7.2" text-anchor="start">6</text>
</svg>
</body></html>
